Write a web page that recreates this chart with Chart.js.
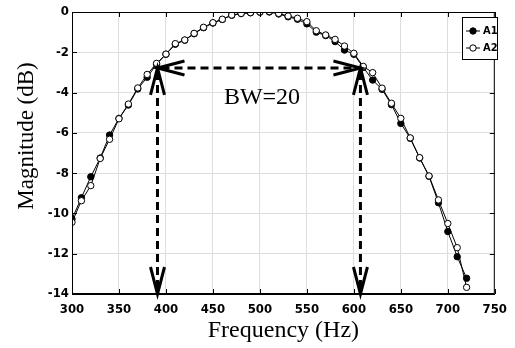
<!DOCTYPE html>
<html>
<head>
<meta charset="utf-8">
<script src="https://cdn.jsdelivr.net/npm/chart.js@4.4.1/dist/chart.umd.min.js"></script>
<style>
  html, body { margin: 0; padding: 0; background: #ffffff; }
  #chart { display: block; }
</style>
</head>
<body>
<canvas id="chart" width="515" height="348"></canvas>
<script>
// Frequency points (Hz)
const freq = [300, 310, 320, 330, 340, 350, 360, 370, 380, 390,
  400, 410, 420, 430, 440, 450, 460, 470, 480, 490,
  500, 510, 520, 530, 540, 550, 560, 570, 580, 590,
  600, 610, 620, 630, 640, 650, 660, 670, 680, 690,
  700, 710, 720];

// A1 - filled markers (dB)
const a1 = [-10.28, -9.22, -8.18, -7.25, -6.11, -5.28, -4.62, -3.82, -3.24, -2.60,
  -2.10, -1.60, -1.40, -1.08, -0.78, -0.55, -0.37, -0.16, -0.08, -0.04,
  -0.01, 0.00, -0.10, -0.24, -0.36, -0.59, -1.00, -1.17, -1.47, -1.89,
  -2.10, -2.75, -3.38, -3.84, -4.60, -5.53, -6.27, -7.25, -8.16, -9.47,
  -10.90, -12.15, -13.22];

// A2 - open markers (dB)
const a2 = [-10.44, -9.37, -8.62, -7.27, -6.32, -5.30, -4.57, -3.77, -3.10, -2.55,
  -2.09, -1.57, -1.39, -1.06, -0.76, -0.53, -0.36, -0.15, -0.07, -0.03,
  0.00, 0.02, -0.07, -0.20, -0.31, -0.48, -0.93, -1.14, -1.36, -1.69,
  -2.05, -2.70, -3.01, -3.78, -4.53, -5.28, -6.25, -7.23, -8.14, -9.33,
  -10.50, -11.70, -13.67];

// Axis ranges / ticks
const xMin = 300, xMax = 750, xStep = 50;
const yMin = -14, yMax = 0, yStep = 2;

// Bandwidth annotation
const bwLow = 391;
const bwHigh = 607;
const bwLevel = -2.78;
const bwLabel = 'BW=20';

const tickFont = "'Liberation Sans Narrow', 'DejaVu Sans Condensed', 'Liberation Sans', sans-serif";
const serifFont = "'Liberation Serif', 'DejaVu Serif', serif";

function toPoints(xs, ys) {
  return xs.map((x, i) => ({ x: x, y: ys[i] }));
}

// draws the box frame, inward ticks, bandwidth arrows, legend and y title
const decorPlugin = {
  id: 'decor',
  afterDatasetsDraw(chart) {
    const ctx = chart.ctx;
    const area = chart.chartArea;
    const sx = chart.scales.x;
    const sy = chart.scales.y;
    const tickLen = 5;

    ctx.save();

    // frame
    ctx.strokeStyle = '#000';
    ctx.lineWidth = 1;
    ctx.strokeRect(area.left + 0.5, area.top + 0.5, area.right - area.left - 1, area.bottom - area.top - 1);

    // inward ticks
    ctx.beginPath();
    for (let v = xMin; v <= xMax; v += xStep) {
      const px = Math.round(sx.getPixelForValue(v)) + 0.5;
      ctx.moveTo(px, area.bottom);
      ctx.lineTo(px, area.bottom - tickLen);
      ctx.moveTo(px, area.top);
      ctx.lineTo(px, area.top + tickLen);
    }
    for (let v = yMin; v <= yMax; v += yStep) {
      const py = Math.round(sy.getPixelForValue(v)) + 0.5;
      ctx.moveTo(area.left, py);
      ctx.lineTo(area.left + tickLen, py);
      ctx.moveTo(area.right, py);
      ctx.lineTo(area.right - tickLen, py);
    }
    ctx.stroke();

    // bandwidth arrows
    const xl = sx.getPixelForValue(bwLow);
    const xr = sx.getPixelForValue(bwHigh);
    const yb = sy.getPixelForValue(bwLevel);
    const ybot = sy.getPixelForValue(yMin);

    ctx.lineWidth = 3;
    ctx.setLineDash([8, 5]);
    ctx.beginPath();
    ctx.moveTo(xl + 4, yb);
    ctx.lineTo(xr - 4, yb);
    ctx.moveTo(xl, yb + 4);
    ctx.lineTo(xl, ybot - 4);
    ctx.moveTo(xr, yb + 4);
    ctx.lineTo(xr, ybot - 4);
    ctx.stroke();
    ctx.setLineDash([]);

    const arm = 27, spread = 7;
    function head(tx, ty, dx, dy) {
      // dx, dy: unit direction pointing back from the tip
      ctx.beginPath();
      ctx.moveTo(tx + dx * arm - dy * spread, ty + dy * arm + dx * spread);
      ctx.lineTo(tx, ty);
      ctx.lineTo(tx + dx * arm + dy * spread, ty + dy * arm - dx * spread);
      ctx.stroke();
    }
    ctx.lineJoin = 'miter';
    head(xl, yb, 1, 0);
    head(xr, yb, -1, 0);
    head(xl, yb, 0, 1);
    head(xr, yb, 0, 1);
    head(xl, ybot, 0, -1);
    head(xr, ybot, 0, -1);

    ctx.fillStyle = '#000';
    ctx.font = '24px ' + serifFont;
    ctx.textAlign = 'center';
    ctx.textBaseline = 'middle';
    ctx.fillText(bwLabel, 262, 98);

    // legend
    const lx = 462, ly = 17, lw = 35, lh = 42;
    ctx.lineWidth = 1;
    ctx.fillStyle = '#fff';
    ctx.fillRect(lx, ly, lw, lh);
    ctx.strokeStyle = '#000';
    ctx.strokeRect(lx + 0.5, ly + 0.5, lw, lh);
    const entries = [
      { label: 'A1', fill: '#000', y: 31 },
      { label: 'A2', fill: '#fff', y: 48 }
    ];
    entries.forEach(e => {
      ctx.beginPath();
      ctx.moveTo(lx + 4, e.y);
      ctx.lineTo(lx + 18, e.y);
      ctx.stroke();
      ctx.beginPath();
      ctx.arc(lx + 11, e.y, 3.2, 0, Math.PI * 2);
      ctx.fillStyle = e.fill;
      ctx.fill();
      ctx.stroke();
      ctx.fillStyle = '#000';
      ctx.font = 'bold 11px ' + tickFont;
      ctx.textAlign = 'left';
      ctx.textBaseline = 'middle';
      ctx.fillText(e.label, lx + 21, e.y);
    });

    // y axis title
    ctx.translate(26.5, 136);
    ctx.rotate(-Math.PI / 2);
    ctx.font = '23px ' + serifFont;
    ctx.textAlign = 'center';
    ctx.textBaseline = 'middle';
    ctx.fillStyle = '#000';
    ctx.fillText('Magnitude (dB)', 0, 0);

    ctx.restore();
  }
};

const ctx = document.getElementById('chart').getContext('2d');
const chart = new Chart(ctx, {
  type: 'line',
  data: {
    datasets: [
      {
        label: 'A1',
        data: toPoints(freq, a1),
        borderColor: '#000',
        borderWidth: 1,
        backgroundColor: '#000',
        pointBackgroundColor: '#000',
        pointBorderColor: '#000',
        pointBorderWidth: 1,
        pointRadius: 3.2,
        tension: 0,
        order: 1
      },
      {
        label: 'A2',
        data: toPoints(freq, a2),
        borderColor: '#000',
        borderWidth: 1,
        backgroundColor: '#fff',
        pointBackgroundColor: '#fff',
        pointBorderColor: '#000',
        pointBorderWidth: 1,
        pointRadius: 3.2,
        tension: 0,
        order: 0
      }
    ]
  },
  options: {
    responsive: false,
    animation: false,
    devicePixelRatio: 1,
    layout: { padding: { left: 0, top: 12, right: 11, bottom: 0 } },
    plugins: {
      legend: { display: false },
      tooltip: { enabled: false }
    },
    scales: {
      x: {
        type: 'linear',
        min: xMin,
        max: xMax,
        afterFit: (scale) => { scale.height = 54; },
        grid: { color: '#dedede', drawTicks: false },
        border: { color: '#000', width: 1 },
        ticks: {
          stepSize: xStep,
          color: '#000',
          padding: 8,
          maxRotation: 0,
          font: { family: tickFont, size: 13, weight: 'bold' }
        },
        title: {
          display: true,
          text: 'Frequency (Hz)',
          color: '#000',
          font: { family: serifFont, size: 24 },
          padding: { top: 0, bottom: 3 }
        }
      },
      y: {
        type: 'linear',
        min: yMin,
        max: yMax,
        afterFit: (scale) => { scale.width = 72; },
        grid: { color: '#dedede', drawTicks: false },
        border: { color: '#000', width: 1 },
        ticks: {
          stepSize: yStep,
          color: '#000',
          padding: 3,
          font: { family: tickFont, size: 13, weight: 'bold' }
        }
      }
    }
  },
  plugins: [decorPlugin]
});
</script>
</body>
</html>
